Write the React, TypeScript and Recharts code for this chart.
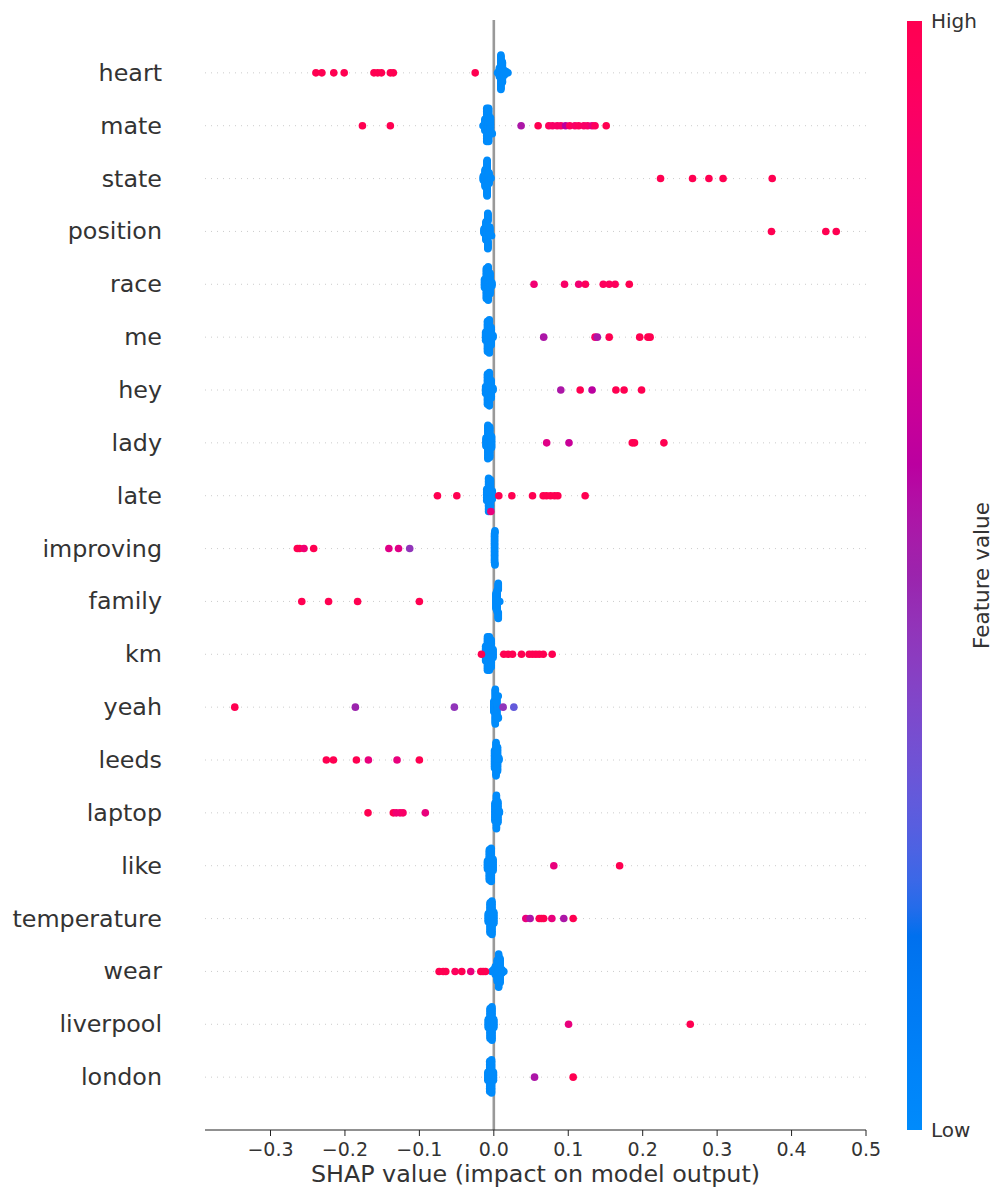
import { ScatterChart, Scatter, XAxis, YAxis, ReferenceLine } from "recharts";

const W = 993;
const H = 1191;
const FONT = "DejaVu Sans";

// features, most important first (drawn top to bottom)
const features = [
  "heart", "mate", "state", "position", "race", "me", "hey", "lady", "late", "improving",
  "family", "km", "yeah", "leeds", "laptop", "like", "temperature", "wear", "liverpool", "london",
];

// SHAP values of the samples where the word occurs
const highShap: number[][] = [
  [-0.239, -0.231, -0.215, -0.201, -0.161, -0.156, -0.151, -0.139, -0.135, -0.025],
  [-0.1765, -0.139, 0.0367, 0.0595, 0.0739, 0.0789, 0.0851, 0.0901, 0.0964, 0.102, 0.109, 0.114, 0.121, 0.126, 0.132, 0.136, 0.151],
  [0.224, 0.267, 0.289, 0.308, 0.374],
  [0.373, 0.446, 0.46],
  [0.054, 0.095, 0.114, 0.123, 0.147, 0.155, 0.163, 0.182],
  [0.067, 0.136, 0.139, 0.155, 0.196, 0.207, 0.21],
  [0.09, 0.116, 0.132, 0.164, 0.175, 0.1985],
  [0.071, 0.101, 0.186, 0.189, 0.2285],
  [-0.0757, -0.0497, -0.004, 0.0067, 0.0242, 0.052, 0.0663, 0.0708, 0.0762, 0.0816, 0.086, 0.1227],
  [-0.264, -0.261, -0.255, -0.242, -0.141, -0.128, -0.113],
  [-0.258, -0.222, -0.183, -0.1],
  [-0.0166, 0.0134, 0.0192, 0.0251, 0.0372, 0.0475, 0.052, 0.0565, 0.061, 0.0664, 0.0784],
  [-0.348, -0.186, -0.053, 0.0125, 0.0269],
  [-0.225, -0.2155, -0.1846, -0.1685, -0.13, -0.1],
  [-0.169, -0.135, -0.131, -0.126, -0.122, -0.092],
  [0.0806, 0.169],
  [0.043, 0.0488, 0.061, 0.064, 0.067, 0.078, 0.094, 0.1066],
  [-0.0735, -0.068, -0.0645, -0.052, -0.043, -0.031, -0.0175, -0.0144, -0.0112],
  [0.1004, 0.2639],
  [0.0547, 0.1066],
];

// normalised feature value of those samples (0 = low, 1 = high)
const highColor: number[][] = [
  [1, 1, 1, 1, 1, 1, 1, 1, 1, 1],
  [1, 1, 0.55, 1, 0.95, 0.9, 0.9, 0.9, 0.6, 0.95, 0.9, 0.95, 0.9, 0.9, 0.8, 0.95, 1],
  [1, 1, 1, 1, 1],
  [1, 1, 1],
  [0.85, 0.9, 0.85, 0.95, 0.95, 0.95, 0.95, 1],
  [0.55, 0.9, 0.55, 1, 1, 1, 1],
  [0.55, 1, 0.6, 1, 1, 1],
  [0.75, 0.65, 1, 1, 1],
  [1, 1, 0.8, 1, 1, 1, 1, 1, 1, 1, 1, 1],
  [1, 1, 0.85, 1, 0.75, 0.75, 0.45],
  [1, 1, 1, 1],
  [1, 1, 1, 1, 1, 1, 1, 1, 1, 1, 1],
  [1, 0.5, 0.45, 0.45, 0.3],
  [1, 1, 1, 0.8, 0.8, 1],
  [1, 1, 0.85, 0.85, 0.9, 0.8],
  [0.8, 1],
  [0.8, 0.55, 1, 1, 1, 0.8, 0.55, 1],
  [1, 1, 1, 0.95, 1, 0.8, 1, 1, 1],
  [0.8, 1],
  [0.55, 1],
];

// samples without the word: [shap value, number of samples]
const lowShap: [number, number][][] = [
  [[0.005, 1], [0.0075, 8], [0.0095, 22], [0.0115, 18], [0.014, 5], [0.0165, 2], [0.019, 1]],
  [[-0.0145, 1], [-0.012, 8], [-0.0095, 22], [-0.007, 22], [-0.0045, 10], [-0.002, 1]],
  [[-0.014, 6], [-0.0115, 22], [-0.009, 22], [-0.0065, 14], [-0.004, 2]],
  [[-0.013, 6], [-0.0105, 22], [-0.008, 20], [-0.0055, 10], [-0.003, 1]],
  [[-0.0125, 6], [-0.01, 20], [-0.0075, 22], [-0.005, 14], [-0.0025, 3]],
  [[-0.011, 6], [-0.0085, 20], [-0.006, 22], [-0.0035, 12], [-0.001, 2]],
  [[-0.011, 5], [-0.0085, 20], [-0.006, 22], [-0.0035, 12], [-0.001, 2]],
  [[-0.0105, 6], [-0.008, 22], [-0.0055, 20], [-0.003, 8]],
  [[-0.0095, 8], [-0.007, 22], [-0.0045, 20], [-0.002, 6]],
  [[0.001, 22], [0.0015, 4]],
  [[0.003, 16], [0.0045, 22], [0.006, 14], [0.008, 1]],
  [[-0.011, 10], [-0.0085, 22], [-0.006, 22], [-0.0035, 18], [-0.001, 6]],
  [[0.0, 10], [0.002, 22], [0.004, 18], [0.006, 3]],
  [[0.001, 12], [0.003, 22], [0.005, 16], [0.007, 2]],
  [[0.0015, 12], [0.0035, 22], [0.0055, 14], [0.0075, 2]],
  [[-0.0085, 6], [-0.006, 20], [-0.0035, 22], [-0.001, 8]],
  [[-0.0075, 6], [-0.005, 20], [-0.0025, 22], [0.0, 8]],
  [[-0.003, 1], [-0.0005, 2], [0.002, 6], [0.0045, 14], [0.0065, 22], [0.0085, 16], [0.011, 3], [0.0135, 1]],
  [[-0.0075, 6], [-0.005, 20], [-0.0025, 22], [0.0, 6]],
  [[-0.008, 6], [-0.0055, 20], [-0.003, 22], [-0.0005, 6]],
];

const xTicks = [-0.3, -0.2, -0.1, 0, 0.1, 0.2, 0.3, 0.4, 0.5];

// blue -> red through purple, interpolated in LCh like the shap colormap
function lchToHex(l: number, c: number, h: number) {
  const a = c * Math.cos(h);
  const b = c * Math.sin(h);
  const fy = (l + 16) / 116;
  const fx = fy + a / 500;
  const fz = fy - b / 200;
  const inv = (t: number) => (t > 6 / 29 ? t * t * t : 3 * (6 / 29) ** 2 * (t - 4 / 29));
  const X = 0.95047 * inv(fx);
  const Y = inv(fy);
  const Z = 1.08883 * inv(fz);
  const lin = [
    3.2406 * X - 1.5372 * Y - 0.4986 * Z,
    -0.9689 * X + 1.8758 * Y + 0.0415 * Z,
    0.0557 * X - 0.204 * Y + 1.057 * Z,
  ];
  return (
    "#" +
    lin
      .map((v) => {
        const g = v <= 0.0031308 ? 12.92 * v : 1.055 * Math.pow(Math.max(v, 0), 1 / 2.4) - 0.055;
        const n = Math.round(Math.min(1, Math.max(0, g)) * 255);
        return n.toString(16).padStart(2, "0");
      })
      .join("")
  );
}

function colour(t: number) {
  const l = t < 0.5 ? 54 - 28 * t : 40 + 28 * (t - 0.5);
  const c = 70 + 20 * t;
  const h = 4.6588 + t * (0.35470565 + 2 * Math.PI - 4.6588);
  return lchToHex(l, c, h);
}

// beeswarm offsets: stack points that fall in the same bin, alternating up/down
function swarm(vals: number[]) {
  const lo = Math.min(...vals);
  const hi = Math.max(...vals);
  const quant = vals.map((v) => Math.round((100 * (v - lo)) / (hi - lo + 1e-8)));
  const order = vals.map((_, i) => i).sort((a, b) => quant[a] - quant[b] || a - b);
  const ys = vals.map(() => 0);
  let layer = 0;
  let last = -1;
  for (const i of order) {
    if (quant[i] !== last) layer = 0;
    ys[i] = Math.ceil(layer / 2) * ((layer % 2) * 2 - 1);
    layer++;
    last = quant[i];
  }
  const m = Math.max(...ys.map((y) => y + 1));
  return ys.map((y) => (y * 0.9 * 0.4) / m);
}

const points: { x: number; y: number; fill: string }[] = [];
features.forEach((_, i) => {
  const row = features.length - 1 - i;
  const vals: number[] = [];
  const cols: number[] = [];
  lowShap[i].forEach(([v, n]) => {
    for (let k = 0; k < n; k++) {
      vals.push(v);
      cols.push(0);
    }
  });
  highShap[i].forEach((v, k) => {
    vals.push(v);
    cols.push(highColor[i][k]);
  });
  const off = swarm(vals);
  vals.forEach((v, k) => points.push({ x: v, y: row + off[k], fill: colour(cols[k]) }));
});

const fmt = (v: number) => (v < 0 ? "\u2212" : "") + Math.abs(v).toFixed(1);

const FeatureTick = (p: any) => (
  <text x={p.x} y={p.y} textAnchor="end" dominantBaseline="central" fontSize={23.8} fill="#333" fontFamily={FONT}>
    {features[features.length - 1 - p.payload.value]}
  </text>
);

const Dot = (p: any) => <circle cx={p.cx} cy={p.cy} r={3.8} fill={p.payload.fill} />;

// colour bar on the right
const bar = { x: 907, top: 21, bottom: 1130, w: 15 };
const barMid = (bar.top + bar.bottom) / 2;
const stops = Array.from({ length: 41 }, (_, k) => k / 40);

export default function App() {
  return (
    <div style={{ position: "absolute", left: 0, top: 0, width: W, height: H, background: "#fff", fontFamily: FONT }}>
      <ScatterChart width={W} height={H} margin={{ top: 20, right: 127, bottom: 0, left: 0 }}>
        <XAxis
          type="number"
          dataKey="x"
          domain={[-0.388, 0.5]}
          allowDataOverflow
          ticks={xTicks}
          tickFormatter={fmt}
          height={61}
          tickSize={6}
          tickMargin={7}
          stroke="#222"
          tick={{ fontSize: 19, fill: "#333", fontFamily: FONT }}
          label={{ value: "SHAP value (impact on model output)", position: "insideBottom", offset: 9, fontSize: 23.8, fill: "#333", fontFamily: FONT }}
        />
        <YAxis
          type="number"
          dataKey="y"
          domain={[-1, 20]}
          allowDataOverflow
          ticks={features.map((_, i) => i)}
          width={205}
          axisLine={false}
          tickLine={false}
          tickSize={6}
          tickMargin={37}
          tick={<FeatureTick />}
        />
        {features.map((_, i) => (
          <ReferenceLine key={i} y={i} stroke="#cccccc" strokeWidth={1} strokeDasharray="1 5" />
        ))}
        <ReferenceLine x={0} stroke="#999999" strokeWidth={2.6} />
        <Scatter data={points} shape={<Dot />} isAnimationActive={false} />
      </ScatterChart>
      <svg width={W} height={H} style={{ position: "absolute", left: 0, top: 0, pointerEvents: "none" }}>
        <defs>
          <linearGradient id="fv" x1="0" y1="1" x2="0" y2="0">
            {stops.map((t) => (
              <stop key={t} offset={t} stopColor={colour(t)} />
            ))}
          </linearGradient>
        </defs>
        <rect x={bar.x} y={bar.top} width={bar.w} height={bar.bottom - bar.top} fill="url(#fv)" />
        <text x={bar.x + bar.w + 9} y={bar.top} dominantBaseline="central" fontSize={20} fill="#333" fontFamily={FONT}>
          High
        </text>
        <text x={bar.x + bar.w + 9} y={bar.bottom} dominantBaseline="central" fontSize={20} fill="#333" fontFamily={FONT}>
          Low
        </text>
        <text
          x={981}
          y={barMid}
          transform={`rotate(-90 981 ${barMid})`}
          textAnchor="middle"
          dominantBaseline="central"
          fontSize={21.5}
          fill="#333"
          fontFamily={FONT}
        >
          Feature value
        </text>
      </svg>
    </div>
  );
}
